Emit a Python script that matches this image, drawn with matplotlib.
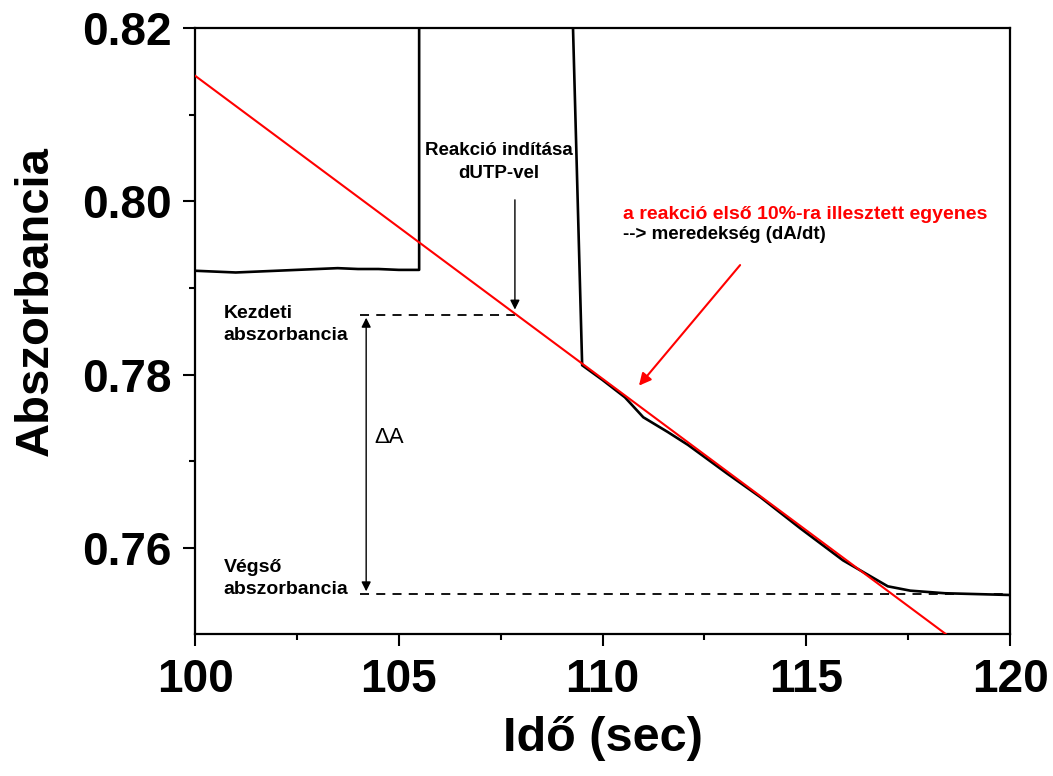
import matplotlib
matplotlib.use("Agg")
import matplotlib.pyplot as plt
from matplotlib.ticker import MultipleLocator

plt.rcParams['font.family'] = ['Liberation Sans', 'DejaVu Sans']

# measured absorbance trace
time_s = [100, 100.5, 101, 101.5, 102, 102.5, 103, 103.5, 104, 104.5, 105, 105.5,
          105.5, 109.27, 109.5, 110.0, 110.55, 111.0, 111.6, 112.1, 113.06, 113.87,
          114.85, 115.9, 117.0, 117.55, 118.4, 119.2, 120]
absorb = [0.7920, 0.7919, 0.7918, 0.7919, 0.7920, 0.7921, 0.7922, 0.7923, 0.7922,
          0.7922, 0.7921, 0.7921, 0.8300, 0.8210, 0.7811, 0.7794, 0.7774, 0.7751,
          0.7734, 0.7719, 0.7686, 0.7659, 0.7623, 0.7586, 0.7556, 0.7551, 0.7548,
          0.7547, 0.7546]

# linear fit to the first 10% of the reaction
fit_x = [100, 118.45]
fit_y = [0.8145, 0.7500]

start_abs = 0.7869
end_abs = 0.7547

fig = plt.figure(figsize=(10.53, 7.76), dpi=100)
ax = fig.add_axes([0.1852, 0.1830, 0.7740, 0.7809])

ax.plot(time_s, absorb, color='black', lw=1.9, zorder=3)
ax.plot(fit_x, fit_y, color='#ff0000', lw=1.5, zorder=4)

# dashed reference levels
ax.plot([104.05, 107.85], [start_abs, start_abs], ls=(0, (5, 4)), color='black', lw=1.3)
ax.plot([104.05, 120], [end_abs, end_abs], ls=(0, (5, 4)), color='black', lw=1.3)

# delta A double arrow
ax.annotate('', xy=(104.2, end_abs), xytext=(104.2, start_abs),
            arrowprops=dict(arrowstyle='<|-|>', color='black', lw=1.0, mutation_scale=14))
ax.text(104.4, 0.7728, 'ΔA', fontsize=16, va='center', ha='left')

# reaction start arrow
ax.annotate('', xy=(107.85, start_abs + 0.0003), xytext=(107.85, 0.8005),
            arrowprops=dict(arrowstyle='-|>', color='black', lw=1.0, mutation_scale=14))
ax.text(107.46, 0.8045, 'Reakció indítása\ndUTP-vel', fontsize=13.5, fontweight='bold',
        ha='center', va='center', linespacing=1.45)

ax.text(100.7, 0.7858, 'Kezdeti\nabszorbancia', fontsize=14, fontweight='bold',
        ha='left', va='center', linespacing=1.45)
ax.text(100.7, 0.7565, 'Végső\nabszorbancia', fontsize=14, fontweight='bold',
        ha='left', va='center', linespacing=1.45)

# fit arrow and label
ax.annotate('', xy=(110.85, 0.7785), xytext=(113.42, 0.7929),
            arrowprops=dict(arrowstyle='-|>', color='#ff0000', lw=1.5, mutation_scale=18))
ax.text(110.5, 0.7985, 'a reakció első 10%-ra illesztett egyenes', fontsize=14,
        fontweight='bold', color='#ff0000', ha='left', va='center')
ax.text(110.5, 0.7962, '--> meredekség (dA/dt)', fontsize=13.5, fontweight='bold',
        color='black', ha='left', va='center')

ax.set_xlim(100, 120)
ax.set_ylim(0.7501, 0.82)
ax.xaxis.set_major_locator(MultipleLocator(5))
ax.xaxis.set_minor_locator(MultipleLocator(2.5))
ax.yaxis.set_minor_locator(MultipleLocator(0.01))
ax.set_yticks([0.76, 0.78, 0.80, 0.82])
ax.set_yticklabels(['0.76', '0.78', '0.80', '0.82'])

ax.tick_params(which='major', direction='out', length=8.6, width=1.5, labelsize=33,
               top=False, right=False)
ax.tick_params(which='minor', direction='out', length=4.3, width=1.5, top=False, right=False)
ax.tick_params(axis='x', pad=9)
ax.tick_params(axis='y', pad=8)
for lbl in ax.get_xticklabels() + ax.get_yticklabels():
    lbl.set_fontweight('bold')
for sp in ax.spines.values():
    sp.set_linewidth(1.6)

ax.set_xlabel('Idő (sec)', fontsize=35, fontweight='bold', labelpad=10)
ax.set_ylabel('Abszorbancia', fontsize=34, fontweight='bold')
ax.yaxis.set_label_coords(-0.168, 0.5495)

fig.savefig('out.png', dpi=100)
